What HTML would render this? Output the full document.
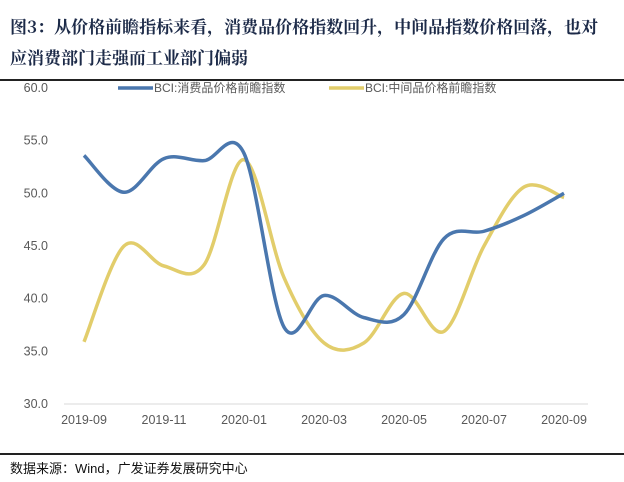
<!DOCTYPE html>
<html><head><meta charset="utf-8"><style>
body{margin:0;background:#fff;}
.wrap{position:relative;width:624px;height:482px;font-family:"Liberation Sans","Noto Sans CJK SC",sans-serif;}
.title{position:absolute;left:10px;top:10px;width:614px;font-family:"Noto Serif CJK SC","Liberation Serif",serif;font-weight:bold;font-size:17px;line-height:31px;color:#1c2a48;white-space:nowrap;}
.rule{position:absolute;left:0;width:624px;height:1.5px;background:#222;}
.src{position:absolute;left:10px;top:458px;font-size:13px;color:#111;}
</style></head><body>
<div class="wrap">
<div class="title">图3：从价格前瞻指标来看，消费品价格指数回升，中间品指数价格回落，也对<br>应消费部门走强而工业部门偏弱</div>
<div class="rule" style="top:79px"></div>
<svg id="chart" width="624" height="482" style="position:absolute;left:0;top:0"></svg>
<div class="rule" style="top:453px"></div>
<div class="src">数据来源：Wind，广发证券发展研究中心</div>
</div>
<script>
const categories=["2019-09","2019-10","2019-11","2019-12","2020-01","2020-02","2020-03","2020-04","2020-05","2020-06","2020-07","2020-08","2020-09"];
const consumerValues=[53.6,50.1,53.3,53.1,53.8,37.3,40.3,38.2,38.5,45.7,46.4,47.9,50.0];
const intermediateValues=[35.9,45.0,43.1,43.2,53.2,42.0,35.8,35.8,40.5,36.9,45.0,50.6,49.6];
const yTicks=[30,35,40,45,50,55,60];
const seriesNames=["BCI:消费品价格前瞻指数","BCI:中间品价格前瞻指数"];
const ns="http://www.w3.org/2000/svg";
const svg=document.getElementById('chart');
const x0=84,x1=564,yTop=88,yBot=404,yMin=30,yMax=60;
function xs(i){return x0+(x1-x0)*i/(categories.length-1);}
function ys(v){return yBot-(v-yMin)/(yMax-yMin)*(yBot-yTop);}
function mk(t,a){const e=document.createElementNS(ns,t);for(const k in a)e.setAttribute(k,a[k]);svg.appendChild(e);return e;}
const axis=mk('line',{x1:64,x2:588,y1:yBot,y2:yBot,stroke:'#d9d9d9','stroke-width':1});


yTicks.forEach(v=>{const t=mk('text',{x:48,y:ys(v)+4,'text-anchor':'end','font-size':12.5,fill:'#595959','font-family':'Liberation Sans'});t.textContent=v.toFixed(1);

});
categories.forEach((c,i)=>{if(i%2)return;const t=mk('text',{x:xs(i),y:yBot+20,'text-anchor':'middle','font-size':12.5,fill:'#595959','font-family':'Liberation Sans'});t.textContent=c;

});
function path(vals){const p=vals.map((v,i)=>[xs(i),ys(v)]);let d=`M${p[0][0]},${p[0][1]}`;
for(let i=0;i<p.length-1;i++){const a=p[Math.max(i-1,0)],b=p[i],c=p[i+1],e=p[Math.min(i+2,p.length-1)];
d+=` C${b[0]+(c[0]-a[0])/6},${b[1]+(c[1]-a[1])/6} ${c[0]-(e[0]-b[0])/6},${c[1]-(e[1]-b[1])/6} ${c[0]},${c[1]}`;}return d;}
const l2=mk('path',{d:path(intermediateValues),fill:'none',stroke:'#e2cd6b','stroke-width':3.5});


const l1=mk('path',{d:path(consumerValues),fill:'none',stroke:'#4a77ae','stroke-width':3.5});


[[118,'#4a77ae',seriesNames[0]],[329,'#e2cd6b',seriesNames[1]]].forEach(([x,c,n],k)=>{
const g=mk('g',{});

const ln=document.createElementNS(ns,'line');ln.setAttribute('x1',x);ln.setAttribute('x2',x+35);ln.setAttribute('y1',88);ln.setAttribute('y2',88);ln.setAttribute('stroke',c);ln.setAttribute('stroke-width',3.5);g.appendChild(ln);
const t=document.createElementNS(ns,'text');t.setAttribute('x',x+36);t.setAttribute('y',92);t.setAttribute('font-size',12);t.setAttribute('fill','#595959');t.setAttribute('font-family','Liberation Sans, Noto Sans CJK SC, sans-serif');t.textContent=n;g.appendChild(t);});
</script>
</body></html>
